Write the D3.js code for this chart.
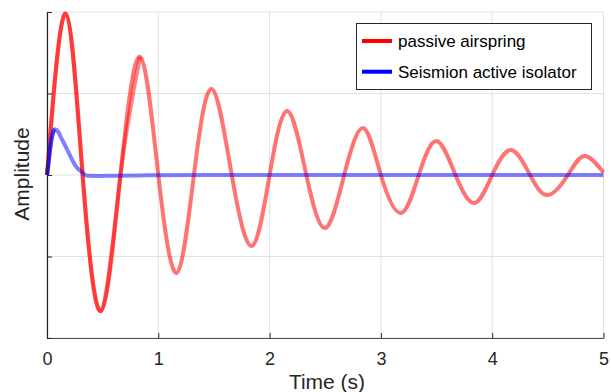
<!DOCTYPE html>
<html><head><meta charset="utf-8">
<script src="https://cdn.jsdelivr.net/npm/d3@7"></script>
<style>body{margin:0;background:#fff}svg{display:block}</style>
</head><body>
<svg id="c" width="611" height="392"></svg>
<script>
// Data
const redT = [0, 0.168, 0.32, 0.485, 0.66, 0.836, 1.0, 1.165, 1.32, 1.48, 1.66, 1.84, 2.0, 2.16, 2.33, 2.5, 2.67, 2.84, 3.0, 3.18, 3.34, 3.5, 3.67, 3.84, 4.0, 4.17, 4.34, 4.5, 4.68, 4.83, 5.0];
const redV = [0, 0.99, 0, -0.834, 0, 0.725, 0, -0.60, 0, 0.528, 0, -0.436, 0, 0.393, 0, -0.325, 0, 0.288, 0, -0.233, 0, 0.209, 0, -0.172, 0, 0.153, 0, -0.123, 0, 0.117, 0.015];
const blueT = [0, 0.01, 0.03, 0.05, 0.072, 0.1, 0.13, 0.16, 0.2, 0.236, 0.27, 0.31, 0.36, 0.45, 0.6, 0.9, 1.5, 5.0];
const blueV = [0, 0.05, 0.17, 0.25, 0.28, 0.265, 0.225, 0.184, 0.13, 0.08, 0.045, 0.02, -0.005, -0.006, -0.004, -0.002, 0, 0];
const xTicks = [0, 1, 2, 3, 4, 5];
const yTicks = [-1, -0.5, 0, 0.5, 1];
const seriesNames = ["passive airspring", "Seismion active isolator"];

const svg = d3.select("#c");
const x = d3.scaleLinear().domain([0, 5]).range([47, 603.5]);
const y = d3.scaleLinear().domain([-1, 1]).range([338, 12]);
const font = "'Liberation Sans', Arial, Helvetica, sans-serif";

// grid
const g = svg.append("g");
g.selectAll(".gx").data(xTicks).join("line")
  .attr("x1", d => x(d)).attr("x2", d => x(d)).attr("y1", y(-1)).attr("y2", y(1))
  .attr("stroke", "#e1e1e1").attr("stroke-width", 1);
g.selectAll(".gy").data(yTicks).join("line")
  .attr("y1", d => y(d)).attr("y2", d => y(d)).attr("x1", x(0)).attr("x2", x(5))
  .attr("stroke", "#e1e1e1").attr("stroke-width", 1);

// lines
const red = redT.map((t, i) => [t, redV[i]]);
const blue = blueT.map((t, i) => [t, blueV[i]]);
const line = d3.line().x(d => x(d[0])).y(d => y(d[1])).curve(d3.curveNatural);
const lineB = d3.line().x(d => x(d[0])).y(d => y(d[1])).curve(d3.curveMonotoneX);

svg.append("path").attr("d", line(red)).attr("fill", "none")
  .attr("stroke", "#ff0000").attr("stroke-opacity", 0.55).attr("stroke-width", 4)
  .attr("stroke-linejoin", "round");
// early, denser part looks more saturated
svg.append("path").attr("d", line(red.slice(0, 6))).attr("fill", "none")
  .attr("stroke", "#ff0000").attr("stroke-opacity", 0.5).attr("stroke-width", 4);

svg.append("path").attr("d", lineB(blue)).attr("fill", "none")
  .attr("stroke", "#0000ff").attr("stroke-opacity", 0.5).attr("stroke-width", 4)
  .attr("stroke-linejoin", "round");
svg.append("path").attr("d", lineB(blue.slice(0, 5))).attr("fill", "none")
  .attr("stroke", "#0000ff").attr("stroke-opacity", 0.55).attr("stroke-width", 4);

// axes
const xAxis = d3.axisBottom(x).tickValues(xTicks).tickSizeInner(-5).tickSizeOuter(0).tickPadding(14).tickFormat(d3.format("d"));
const gx = svg.append("g").attr("transform", `translate(0,${y(-1)})`).call(xAxis);
gx.select(".domain").attr("stroke", "#4d4d4d").attr("stroke-width", 1.2);
gx.selectAll(".tick line").attr("stroke", "#262626");
gx.selectAll("text").attr("font-family", font).attr("font-size", 18).attr("fill", "#262626");

const yAxis = d3.axisLeft(y).tickValues(yTicks).tickSizeInner(-5).tickSizeOuter(0).tickFormat("");
const gy = svg.append("g").attr("transform", `translate(${x(0)},0)`).call(yAxis);
gy.select(".domain").attr("stroke", "#262626").attr("stroke-width", 1.2);
gy.selectAll(".tick line").attr("stroke", "#262626");

// labels
svg.append("text").attr("x", 327).attr("y", 389).attr("text-anchor", "middle")
  .attr("font-family", font).attr("font-size", 21).attr("fill", "#262626").text("Time (s)");
svg.append("text").attr("transform", "translate(28.5,174) rotate(-90)").attr("text-anchor", "middle")
  .attr("font-family", font).attr("font-size", 21).attr("fill", "#262626").text("Amplitude");

// legend
const lg = svg.append("g");
lg.append("rect").attr("x", 356.5).attr("y", 23.5).attr("width", 235).attr("height", 66)
  .attr("fill", "#fff").attr("stroke", "#262626").attr("stroke-width", 1);
const colors = ["#ff0000", "#0000ff"];
seriesNames.forEach((n, i) => {
  const yy = 41 + i * 30.7;
  lg.append("line").attr("x1", 362).attr("x2", 392).attr("y1", yy).attr("y2", yy)
    .attr("stroke", colors[i]).attr("stroke-width", 4);
  lg.append("text").attr("x", 398).attr("y", yy + 6).attr("font-family", font)
    .attr("font-size", 17).attr("fill", "#000").text(n);
});
</script>
</body></html>
